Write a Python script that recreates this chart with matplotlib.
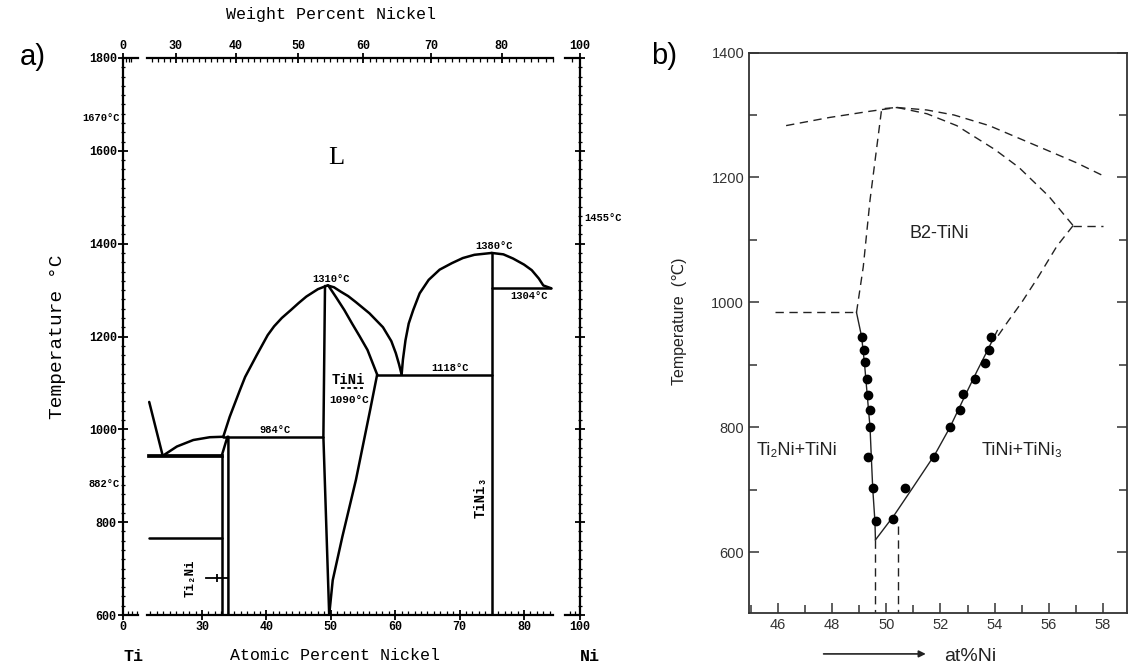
import numpy as np
import matplotlib.pyplot as plt
from matplotlib.ticker import FixedLocator, MultipleLocator

MONO = ['Liberation Mono', 'DejaVu Sans Mono']
SANS = ['Liberation Sans', 'DejaVu Sans']
plt.rcParams['font.family'] = MONO
plt.rcParams['font.weight'] = 'bold'

# ---------------- panel a : Ti-Ni diagram (at% Ni, deg C) ----------------
a_liq_ti_x = [21.8, 23.9]
a_liq_ti_t = [1059, 943]
a_beta_x = [23.9, 26.1, 28.65, 31.2, 33.3]
a_beta_t = [943, 963, 977, 983, 984]
a_eut_x = [21.8, 33.06]          # 942 C
a_eutectoid_x = [21.8, 33.06]    # 765 C
a_ti2ni_left_x = [33.06, 33.06]
a_ti2ni_left_t = [600, 943]
a_ti2ni_right_x = [33.06, 33.95, 34.1, 34.1]
a_ti2ni_right_t = [943, 984, 984, 600]
a_perit_x = [33.3, 48.85]        # 984 C
a_tini_liq_l_x = [33.3, 34.3, 35.9, 36.7, 38.5, 40.2, 41.2, 42.4, 43.8, 45.0, 46.2, 48.0, 49.5]
a_tini_liq_l_t = [984, 1027, 1085, 1113, 1160, 1203, 1222, 1240, 1257, 1272, 1286, 1302, 1310]
a_tini_left_x = [49.1, 48.85, 49.75]
a_tini_left_t = [1309, 984, 600]
a_tini_liq_r_x = [49.5, 50.5, 51.5, 52.7, 53.9, 56.0, 58.1, 59.4, 60.1, 60.6, 61.0]
a_tini_liq_r_t = [1310, 1306, 1297, 1287, 1274, 1250, 1220, 1190, 1164, 1140, 1118]
a_tini_sol_x = [49.6, 50.8, 52.1, 53.3, 54.5, 55.7, 57.2]
a_tini_sol_t = [1310, 1285, 1257, 1228, 1200, 1171, 1118]
a_tini_solvus_x = [57.2, 56.1, 53.9, 51.8, 50.3, 49.75]
a_tini_solvus_t = [1118, 1041, 891, 769, 675, 600]
a_eut2_x = [57.2, 75.0]          # 1118 C
a_tini3_liq_l_x = [61.0, 61.2, 61.6, 62.1, 62.8, 63.8, 65.2, 66.9, 68.8, 70.5, 72.3, 75.0]
a_tini3_liq_l_t = [1118, 1150, 1192, 1228, 1257, 1293, 1322, 1344, 1358, 1369, 1376, 1380]
a_tini3_liq_r_x = [75.0, 76.8, 78.3, 80.0, 81.2, 82.3, 83.0, 84.2]
a_tini3_liq_r_t = [1380, 1377, 1368, 1355, 1343, 1325, 1310, 1304]
a_eut3_x = [75.0, 84.2]          # 1304 C
a_tini3_x = [75.0, 75.0]
a_tini3_t = [600, 1380]
a_order_x = [51.6, 55.0]         # 1090 C dashed

A_TMIN, A_TMAX = 600, 1800
at_ticks = [0, 30, 40, 50, 60, 70, 80, 100]
wt_ticks = [0, 30, 40, 50, 60, 70, 80, 100]
axis_segments = [(0, 13), (21.5, 84.5), (91.4, 100)]

# broken composition axis: pure ends squeezed next to the main range
AT_BREAK = [0, 21.5, 84.5, 100]
U_BREAK = [17.73, 21.5, 84.5, 88.7]


def to_u(x):
    return np.interp(x, AT_BREAK, U_BREAK)


def from_u(u):
    return np.interp(u, U_BREAK, AT_BREAK)


def wt_to_at(w):
    w = np.asarray(w, float)
    a = w / 58.69
    b = (100 - w) / 47.87
    return 100 * a / (a + b)


def at_to_wt(x):
    x = np.asarray(x, float)
    a = x * 58.69
    b = (100 - x) * 47.87
    return 100 * a / (a + b)


# ---------------- panel b : B2 TiNi region ----------------
b_liq_l_x = [46.3, 47.9, 49.4, 50.4]
b_liq_l_t = [1283, 1296, 1306, 1312]
b_liq_r_x = [50.4, 51.5, 52.5, 53.8, 55.7, 57.0, 58.0]
b_liq_r_t = [1312, 1308, 1300, 1283, 1248, 1224, 1203]
b_sol_r_x = [50.4, 51.5, 52.6, 54.0, 54.9, 56.0, 56.9]
b_sol_r_t = [1312, 1302, 1283, 1245, 1216, 1170, 1123]
b_eut_x = [56.9, 58.0]           # 1123 C
b_solvus_hi_x = [56.9, 56.3, 55.6, 55.0, 54.5, 54.1]
b_solvus_hi_t = [1123, 1090, 1040, 1000, 970, 945]
b_left_hi_x = [48.9, 49.15, 49.4, 49.83, 50.4]
b_left_hi_t = [984, 1057, 1164, 1310, 1312]
b_perit_x = [45.9, 48.9]         # 984 C
b_fit_l_x = [48.9, 49.09, 49.2, 49.3, 49.4, 49.45, 49.5, 49.58, 49.6]
b_fit_l_t = [984, 945, 900, 850, 800, 750, 702, 650, 620]
b_fit_r_x = [49.6, 50.3, 51.0, 51.8, 52.35, 52.9, 53.35, 53.7, 54.1]
b_fit_r_t = [620, 660, 705, 757, 800, 850, 890, 920, 955]
b_drop1_x = 49.6
b_drop1_t = 620
b_drop2_x = 50.44
b_drop2_t = 643
b_dots_l_x = [49.09, 49.18, 49.22, 49.27, 49.32, 49.40, 49.40, 49.34, 49.50, 49.61]
b_dots_l_t = [945, 924, 904, 878, 852, 828, 801, 752, 703, 651]
b_dots_r_x = [50.24, 50.69, 51.76, 52.35, 52.72, 52.82, 53.26, 53.64, 53.80, 53.85]
b_dots_r_t = [654, 703, 753, 801, 828, 854, 878, 903, 924, 945]

B_XMIN, B_XMAX = 44.93, 58.89
B_TMIN, B_TMAX = 503, 1400

fig = plt.figure(figsize=(11.28, 6.69), dpi=100)
axa = fig.add_axes([123 / 1128, 1 - 615 / 669, 457 / 1128, 557 / 669])
axb = fig.add_axes([749 / 1128, 1 - 613 / 669, 378 / 1128, 560.5 / 669])

# ----- panel a -----
axa.set_xscale('function', functions=(to_u, from_u))
axa.set_xlim(0, 100)
axa.set_ylim(A_TMIN, A_TMAX)

lw = 1.8
k = dict(color='black', lw=lw, solid_capstyle='round', solid_joinstyle='round')
axa.plot(a_liq_ti_x, a_liq_ti_t, **k)
axa.plot(a_beta_x, a_beta_t, **k)
axa.plot(a_eut_x, [943, 943], color='black', lw=2.7)
axa.plot(a_eutectoid_x, [765, 765], **k)
axa.plot(a_ti2ni_left_x, a_ti2ni_left_t, **k)
axa.plot(a_ti2ni_right_x, a_ti2ni_right_t, **k)
axa.plot(a_perit_x, [984, 984], **k)
axa.plot(a_tini_liq_l_x, a_tini_liq_l_t, **k)
axa.plot(a_tini_left_x, a_tini_left_t, **k)
axa.plot(a_tini_liq_r_x, a_tini_liq_r_t, **k)
axa.plot(a_tini_sol_x, a_tini_sol_t, **k)
axa.plot(a_tini_solvus_x, a_tini_solvus_t, **k)
axa.plot(a_eut2_x, [1118, 1118], **k)
axa.plot(a_tini3_liq_l_x, a_tini3_liq_l_t, **k)
axa.plot(a_tini3_liq_r_x, a_tini3_liq_r_t, **k)
axa.plot(a_eut3_x, [1304, 1304], **k)
axa.plot(a_tini3_x, a_tini3_t, **k)
axa.plot(a_order_x, [1090, 1090], color='black', lw=1.3, dashes=(2, 1.5))
# small marker pointing at Ti2Ni
axa.plot([30.6, 34.1], [680, 680], color='black', lw=1.3)
axa.plot([32.4], [680], marker='|', color='black', ms=6, mew=1.3)

# broken top / bottom axes
axa.spines['top'].set_visible(False)
axa.spines['bottom'].set_visible(False)
for side in ['left', 'right']:
    axa.spines[side].set_linewidth(1.6)
for s0, s1 in axis_segments:
    for yy in (A_TMIN, A_TMAX):
        axa.plot([s0, s1], [yy, yy], color='black', lw=1.6, clip_on=False)

at_minor = list(np.arange(22, 85)) + [4, 8, 12] + [94, 97]
axa.xaxis.set_major_locator(FixedLocator(at_ticks))
axa.xaxis.set_minor_locator(FixedLocator([m for m in at_minor if m not in at_ticks]))
axa.set_xticklabels([str(t) for t in at_ticks])
axa.yaxis.set_major_locator(MultipleLocator(200))
axa.yaxis.set_minor_locator(MultipleLocator(20))
axa.tick_params(which='major', direction='inout', length=7, width=1.3, labelsize=8.5,
                right=True, pad=1)
axa.tick_params(which='minor', direction='in', length=3, width=0.9, right=True)
axa.tick_params(axis='y', which='minor', direction='inout', length=3)

axt = axa.twiny()
axt.set_xscale('function', functions=(lambda w: to_u(wt_to_at(w)),
                                      lambda u: at_to_wt(from_u(u))))
axt.set_xlim(0, 100)
for sp in axt.spines.values():
    sp.set_visible(False)
axt.xaxis.set_major_locator(FixedLocator(wt_ticks))
axt.xaxis.set_minor_locator(FixedLocator([m for m in range(26, 88) if m not in wt_ticks]
                                         + [3, 6, 9, 96]))
axt.set_xticklabels([str(t) for t in wt_ticks])
axt.tick_params(which='major', direction='inout', length=7, width=1.3, labelsize=8.5, pad=1)
axt.tick_params(which='minor', direction='in', length=3, width=0.9)

axt.set_xlabel('Weight Percent Nickel', fontsize=12)
axt.xaxis.set_label_coords(0.455, 1.07)
axa.set_xlabel('Atomic Percent Nickel', fontsize=12)
axa.xaxis.set_label_coords(0.464, -0.06)
axa.set_ylabel('Temperature \u00b0C', fontsize=14)
axa.yaxis.set_label_coords(-0.125, 0.5)
axa.text(0.022, -0.075, 'Ti', transform=axa.transAxes, ha='center', va='center', fontsize=12)
axa.text(1.022, -0.075, 'Ni', transform=axa.transAxes, ha='center', va='center', fontsize=12)

axa.annotate('1670\u00b0C', (0, 1670), xytext=(-2, 0), textcoords='offset points',
             ha='right', va='center', fontsize=7.5, annotation_clip=False)
axa.annotate('882\u00b0C', (0, 882), xytext=(-2, 0), textcoords='offset points',
             ha='right', va='center', fontsize=7.5, annotation_clip=False)
axa.annotate('1455\u00b0C', (100, 1455), xytext=(3, 0), textcoords='offset points',
             ha='left', va='center', fontsize=7.5, annotation_clip=False)

axa.text(50.8, 1584, 'L', family=['Liberation Serif'], fontweight='normal', fontsize=19,
         ha='center', va='center')
small = dict(fontsize=7.5, ha='center')
axa.text(50.0, 1314, '1310\u00b0C', va='bottom', **small)
axa.text(75.3, 1384, '1380\u00b0C', va='bottom', **small)
axa.text(80.8, 1298, '1304\u00b0C', va='top', **small)
axa.text(68.5, 1122, '1118\u00b0C', va='bottom', **small)
axa.text(41.3, 988, '984\u00b0C', va='bottom', **small)
axa.text(52.8, 1075, '1090\u00b0C', va='top', fontsize=8, ha='center')
axa.text(52.7, 1106, 'TiNi', fontsize=10, ha='center', va='center')
axa.text(73.2, 854, 'TiNi\u2083', fontsize=10, ha='center', va='center', rotation=90)
axa.text(28.3, 679, 'Ti\u2082Ni', fontsize=9, ha='center', va='center', rotation=90)

fig.text(33 / 1128, 1 - 57 / 669, 'a)', family=SANS, fontweight='normal', fontsize=21,
         ha='center', va='center')

# ----- panel b -----
axb.set_xlim(B_XMIN, B_XMAX)
axb.set_ylim(B_TMIN, B_TMAX)
dk = dict(color='#222222', lw=1.0, dashes=(6, 4))
sk = dict(color='#222222', lw=1.0)
axb.plot(b_liq_l_x, b_liq_l_t, **dk)
axb.plot(b_liq_r_x, b_liq_r_t, **dk)
axb.plot(b_sol_r_x, b_sol_r_t, **dk)
axb.plot(b_eut_x, [1123, 1123], **dk)
axb.plot(b_solvus_hi_x, b_solvus_hi_t, **dk)
axb.plot(b_left_hi_x, b_left_hi_t, **dk)
axb.plot(b_perit_x, [984, 984], **dk)
axb.plot(b_fit_l_x, b_fit_l_t, **sk)
axb.plot(b_fit_r_x, b_fit_r_t, **sk)
axb.plot([b_drop1_x, b_drop1_x], [b_drop1_t, B_TMIN], **dk)
axb.plot([b_drop2_x, b_drop2_x], [b_drop2_t, B_TMIN], **dk)
axb.plot(b_dots_l_x, b_dots_l_t, 'o', color='black', ms=6)
axb.plot(b_dots_r_x, b_dots_r_t, 'o', color='black', ms=6)

for sp in axb.spines.values():
    sp.set_linewidth(1.3)
    sp.set_color('#333333')
axb.xaxis.set_major_locator(MultipleLocator(2))
axb.xaxis.set_minor_locator(MultipleLocator(1))
axb.yaxis.set_major_locator(MultipleLocator(200))
axb.yaxis.set_minor_locator(MultipleLocator(100))
axb.tick_params(which='both', direction='in', right=True, width=1.1, color='#333333')
axb.tick_params(which='major', length=7, labelsize=10.5)
axb.tick_params(which='minor', length=6)
for lab in axb.get_xticklabels() + axb.get_yticklabels():
    lab.set_family(SANS)
    lab.set_fontweight('normal')
    lab.set_color('#333333')

sans = dict(family=SANS, fontweight='normal', color='#222222')
axb.text(51.96, 1110, 'B2-TiNi', fontsize=13, ha='center', va='center', **sans)
axb.text(46.7, 763, 'Ti\u2082Ni+TiNi', fontsize=13, ha='center', va='center', **sans)
axb.text(55.0, 763, 'TiNi+TiNi\u2083', fontsize=13, ha='center', va='center', **sans)
axb.set_xlabel('at%Ni', fontsize=14, **sans)
axb.xaxis.set_label_coords(0.585, -0.062)
axb.annotate('', xy=(0.475, -0.073), xytext=(0.19, -0.073), xycoords='axes fraction',
             arrowprops=dict(arrowstyle='-|>', color='#222222', lw=1.2,
                             mutation_scale=10))
axb.set_ylabel('Temperature  (\u2103)', fontsize=11.5, **sans)
axb.yaxis.set_label_coords(-0.165, 0.52)

fig.text(664 / 1128, 1 - 56 / 669, 'b)', family=SANS, fontweight='normal', fontsize=21,
         ha='center', va='center')

fig.savefig('out.png', dpi=100)
